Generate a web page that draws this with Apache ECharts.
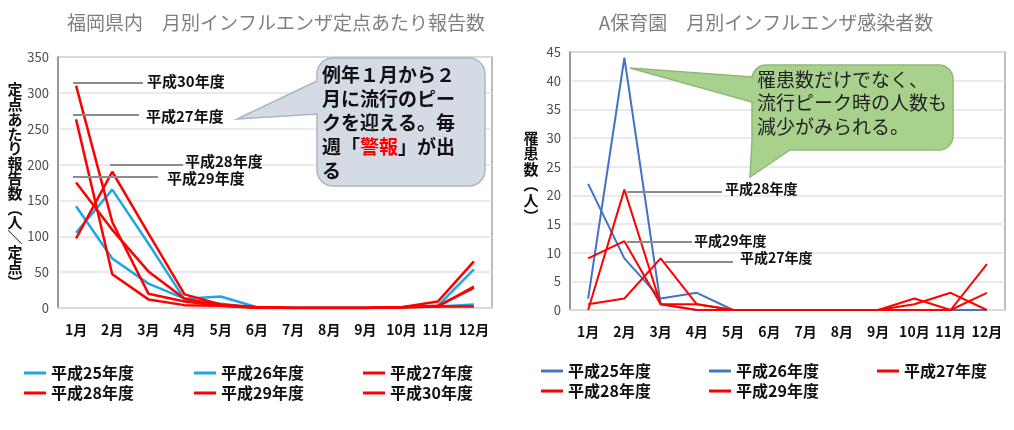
<!DOCTYPE html>
<html>
<head>
<meta charset="utf-8">
<script src="https://cdn.jsdelivr.net/npm/echarts@6/dist/echarts.min.js"></script>
<style>
  html, body { margin: 0; padding: 0; background: #fff; }
  #main { width: 1014px; height: 430px; }
</style>
</head>
<body>
<div id="main"></div>
<script>
var chartDom = document.getElementById("main");
var myChart = echarts.init(chartDom);
var option;

var FONT = '"Noto Sans CJK JP", "Noto Sans", sans-serif';

// months
const months = ["1月", "2月", "3月", "4月", "5月", "6月", "7月", "8月", "9月", "10月", "11月", "12月"];

// 福岡県内 定点あたり報告数
const fkH25 = [142, 69, 34, 13, 16, 1, 0, 0, 0, 1, 3, 54];
const fkH26 = [105, 165, 90, 12, 6, 0, 0, 0, 0, 1, 2, 5];
const fkH27 = [263, 47, 12, 4, 3, 1, 0, 0, 0, 1, 3, 28];
const fkH28 = [97, 190, 104, 19, 5, 1, 0, 0, 0, 1, 2, 30];
const fkH29 = [175, 109, 51, 13, 4, 1, 0, 0, 0, 1, 9, 65];
const fkH30 = [310, 120, 20, 9, 3, 0, 0, 0, 0, 1, 2, 2];

// A保育園 罹患数
const enH25 = [22, 9, 2, 3, 0, 0, 0, 0, 0, 0, 0, 0];
const enH26 = [2, 44, 1, 0, 0, 0, 0, 0, 0, 0, 0, 0];
const enH27 = [1, 2, 9, 1, 0, 0, 0, 0, 0, 2, 0, 8];
const enH28 = [0, 21, 1, 1, 0, 0, 0, 0, 0, 1, 3, 0];
const enH29 = [9, 12, 1, 0, 0, 0, 0, 0, 0, 0, 0, 3];

const CYAN = "#1ea7e1";
const BLUE = "#4472c4";
const RED = "#ff0000";

function mkLine(name, data, color, idx, width) {
  return {
    name: name,
    type: "line",
    xAxisIndex: idx,
    yAxisIndex: idx,
    data: data,
    symbol: "none",
    color: color,
    lineStyle: { color: color, width: width },
    animation: false
  };
}

function mkLegend(items, left, top) {
  return {
    orient: "vertical",
    left: left,
    top: top,
    padding: 0,
    icon: "rect",
    itemWidth: 22,
    itemHeight: 3,
    itemGap: 2,
    selectedMode: false,
    textStyle: { fontFamily: FONT, fontSize: 16, fontWeight: "bold", color: "#111", lineHeight: 18 },
    data: items.map(function (it) {
      return { name: it[0], itemStyle: { color: it[1], borderWidth: 0 } };
    })
  };
}

function xAx(gi) {
  return {
    type: "category",
    gridIndex: gi,
    data: months,
    axisTick: { show: false },
    axisLine: { show: true, lineStyle: { color: "#d9d9d9", width: 2 } },
    axisLabel: { fontFamily: FONT, fontSize: 14, fontWeight: "bold", color: "#111", margin: 15, interval: 0 }
  };
}

function yAx(gi, max, interval) {
  return {
    type: "value",
    gridIndex: gi,
    min: 0,
    max: max,
    interval: interval,
    axisLine: { show: true, lineStyle: { color: "#8c8c8c", width: 1.5 } },
    axisTick: { show: false },
    splitLine: { lineStyle: { color: "#e3e3e3", width: 1.5 } },
    axisLabel: { fontFamily: FONT, fontSize: 13, color: "#4d4d4d", margin: 9 }
  };
}

function leader(x1, x2, y, tx, ty, text, fs) {
  return [
    { type: "line", shape: { x1: x1, y1: y, x2: x2, y2: y }, style: { stroke: "#8c8c8c", lineWidth: 2 }, z: 50 },
    { type: "text", x: tx, y: ty, style: { text: text, fontFamily: FONT, fontSize: fs, fontWeight: "bold", fill: "#111", textVerticalAlign: "middle" }, z: 50 }
  ];
}

// rounded corner points for the callout outlines
function arc(cx, cy, r, a0, a1) {
  var pts = [];
  for (var i = 0; i <= 8; i++) {
    var a = (a0 + (a1 - a0) * i / 8) * Math.PI / 180;
    pts.push([cx + r * Math.cos(a), cy + r * Math.sin(a)]);
  }
  return pts;
}

var calloutL = []
  .concat(arc(333, 74, 16, 180, 270))
  .concat(arc(469, 74, 16, 270, 360))
  .concat(arc(469, 170, 16, 0, 90))
  .concat(arc(333, 170, 16, 90, 180))
  .concat([[317, 114], [237, 119], [317, 81]]);

var calloutR = []
  .concat(arc(766, 79, 14, 180, 270))
  .concat(arc(939, 79, 14, 270, 360))
  .concat(arc(939, 136, 14, 0, 90))
  .concat([[790, 150], [750, 177], [752, 140], [752, 102], [630, 68], [752, 77]]);

var graphics = [
  // titles
  { type: "text", x: 276, y: 23, style: { text: "福岡県内　月別インフルエンザ定点あたり報告数", fontFamily: FONT, fontSize: 19, fill: "#7f7f7f", textAlign: "center", textVerticalAlign: "middle" } },
  { type: "text", x: 766, y: 23, style: { text: "A保育園　月別インフルエンザ感染者数", fontFamily: FONT, fontSize: 19, fill: "#7f7f7f", textAlign: "center", textVerticalAlign: "middle" } },
  // y axis names (vertical)
  { type: "text", x: 15, y: 82, style: { text: "定\n点\nあ\nた\nり\n報\n告\n数\n︵\n人\n＼\n定\n点\n︶", fontFamily: FONT, fontSize: 15, lineHeight: 14.8, fontWeight: "bold", fill: "#111", textAlign: "center" } },
  { type: "text", x: 531, y: 130, style: { text: "罹\n患\n数\n︵\n人\n︶", fontFamily: FONT, fontSize: 15, lineHeight: 15.6, fontWeight: "bold", fill: "#111", textAlign: "center" } },
  // left callout
  {
    type: "polygon", z: 60,
    shape: { points: calloutL },
    style: { fill: "#d5dbe5", stroke: "#a9b6c8", lineWidth: 1.5 }
  },
  {
    type: "text", x: 322, y: 63, z: 61,
    style: {
      text: "例年１月から２\n月に流行のピー\nクを迎える。毎\n週「{r|警報}」が出\nる",
      fontFamily: FONT, fontSize: 19, lineHeight: 24, fontWeight: "bold", fill: "#111",
      rich: { r: { fill: "#ff0000", fontFamily: FONT, fontSize: 19, fontWeight: "bold", lineHeight: 24 } }
    }
  },
  // right callout
  {
    type: "polygon", z: 60,
    shape: { points: calloutR },
    style: { fill: "#a9d18e", stroke: "#91b878", lineWidth: 1.5 }
  },
  {
    type: "text", x: 757, y: 68, z: 61,
    style: { text: "罹患数だけでなく、\n流行ピーク時の人数も\n減少がみられる。", fontFamily: FONT, fontSize: 19, lineHeight: 23.5, fill: "#222" }
  }
];

graphics = graphics
  .concat(leader(73, 143, 83, 147, 81, "平成30年度", 15))
  .concat(leader(73, 139, 115, 146, 116, "平成27年度", 15))
  .concat(leader(110, 183, 165, 185, 161, "平成28年度", 15))
  .concat(leader(73, 158, 177, 167, 178, "平成29年度", 15))
  .concat(leader(627, 722, 192, 725, 189, "平成28年度", 14))
  .concat(leader(627, 692, 242, 694, 241, "平成29年度", 14))
  .concat(leader(665, 733, 262, 740, 258, "平成27年度", 14));

option = {
  backgroundColor: "#fff",
  animation: false,
  textStyle: { fontFamily: FONT },
  grid: [
    { left: 58, top: 57, width: 434, height: 251, show: true, borderColor: "#a6a6a6", borderWidth: 1.5 },
    { left: 570, top: 52, width: 435, height: 258, show: true, borderColor: "#a6a6a6", borderWidth: 1.5 }
  ],
  xAxis: [xAx(0), xAx(1)],
  yAxis: [yAx(0, 350, 50), yAx(1, 45, 5)],
  legend: [
    mkLegend([["平成25年度", CYAN], ["平成28年度", RED]], 24, 364),
    mkLegend([["平成26年度", CYAN], ["平成29年度", RED]], 194, 364),
    mkLegend([["平成27年度", RED], ["平成30年度", RED]], 363, 364),
    mkLegend([["平成25年度", BLUE], ["平成28年度", RED]], 541, 362),
    mkLegend([["平成26年度", BLUE], ["平成29年度", RED]], 709, 362),
    mkLegend([["平成27年度", RED]], 877, 362)
  ],
  series: [
    mkLine("平成25年度", fkH25, CYAN, 0, 2.5),
    mkLine("平成26年度", fkH26, CYAN, 0, 2.5),
    mkLine("平成27年度", fkH27, RED, 0, 2.5),
    mkLine("平成28年度", fkH28, RED, 0, 2.5),
    mkLine("平成29年度", fkH29, RED, 0, 2.5),
    mkLine("平成30年度", fkH30, RED, 0, 2.5),
    mkLine("平成25年度", enH25, BLUE, 1, 2),
    mkLine("平成26年度", enH26, BLUE, 1, 2),
    mkLine("平成27年度", enH27, RED, 1, 2),
    mkLine("平成28年度", enH28, RED, 1, 2),
    mkLine("平成29年度", enH29, RED, 1, 2)
  ],
  graphic: graphics
};

option && myChart.setOption(option);
</script>
</body>
</html>
